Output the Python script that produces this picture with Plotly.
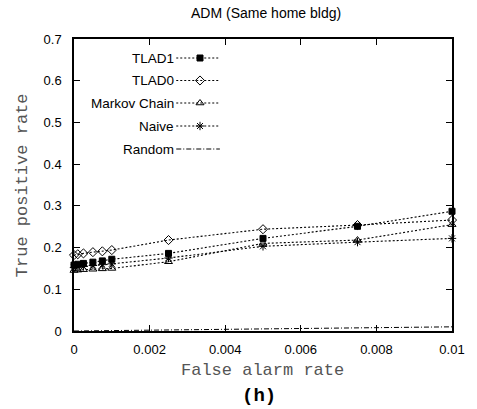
import plotly.graph_objects as go

# False alarm rate sample points
far = [0, 0.0001, 0.00025, 0.0005, 0.00075, 0.001, 0.0025, 0.005, 0.0075, 0.01]

# True positive rate for each detector
tlad1 = [0.158, 0.160, 0.162, 0.165, 0.168, 0.172, 0.186, 0.222, 0.251, 0.287]
tlad0 = [0.182, 0.184, 0.186, 0.189, 0.191, 0.194, 0.218, 0.244, 0.254, 0.266]
markov = [0.145, 0.146, 0.147, 0.148, 0.149, 0.150, 0.166, 0.210, 0.218, 0.255]
naive = [0.152, 0.153, 0.155, 0.157, 0.159, 0.161, 0.175, 0.203, 0.213, 0.222]
random_far = [0, 0.01]
random_tpr = [0, 0.01]

series_names = ["TLAD1", "TLAD0", "Markov Chain", "Naive", "Random"]

x_ticks = [0, 0.002, 0.004, 0.006, 0.008, 0.01]
x_tick_text = ["0", "0.002", "0.004", "0.006", "0.008", "0.01"]
y_ticks = [0, 0.1, 0.2, 0.3, 0.4, 0.5, 0.6, 0.7]
y_tick_text = ["0", "0.1", "0.2", "0.3", "0.4", "0.5", "0.6", "0.7"]

W, H = 477, 409
L, R, T, B = 73.5, 463.5, 39, 331  # plot area edges in pixels
PW, PH = R - L, B - T

DOT = "2px,2px"
DASHDOT = "5px,2px,1px,2px"
SANS = "Liberation Sans, Arial, sans-serif"
MONO = "Liberation Mono, Courier New, monospace"

styles = [
    dict(symbol="square", size=6, color="black", line=dict(color="black", width=1)),
    dict(symbol="diamond-open", size=7, color="black", line=dict(color="black", width=1)),
    dict(symbol="triangle-up-open", size=7, color="black", line=dict(color="black", width=1)),
    dict(symbol="asterisk-open", size=7, color="black", line=dict(color="black", width=1)),
]

fig = go.Figure()

for name, ys, mk in zip(series_names[:4], [tlad1, tlad0, markov, naive], styles):
    fig.add_trace(go.Scatter(
        x=far, y=ys, name=name, mode="lines+markers",
        line=dict(color="black", width=1.1, dash=DOT),
        marker=mk, showlegend=False, cliponaxis=False,
    ))

fig.add_trace(go.Scatter(
    x=random_far, y=random_tpr, name=series_names[4], mode="lines",
    line=dict(color="black", width=1, dash=DASHDOT), showlegend=False,
))

# Legend drawn inside the plot: label on the left, sample on the right
leg_rows_px = [58, 80.5, 103, 126, 149]
leg_text_right = 179
leg_line = (179, 224)
for i, name in enumerate(series_names):
    yy = B - leg_rows_px[i]
    x0, x1 = leg_line[0] - L, leg_line[1] - L
    fig.add_trace(go.Scatter(
        x=[x0, x1], y=[yy, yy], xaxis="x2", yaxis="y2", mode="lines",
        line=dict(color="black", width=1, dash=DOT if i < 4 else DASHDOT),
        showlegend=False, hoverinfo="skip",
    ))
    if i < 4:
        fig.add_trace(go.Scatter(
            x=[(x0 + x1) / 2 + 2], y=[yy], xaxis="x2", yaxis="y2", mode="markers",
            marker=styles[i], showlegend=False, hoverinfo="skip",
        ))
    fig.add_annotation(
        x=leg_text_right - L, y=yy, xref="x2", yref="y2", text=name,
        showarrow=False, xanchor="right", yanchor="middle",
        font=dict(family=SANS, size=13.5, color="black"),
    )


def px(xp):
    return (xp - L) / PW


def py(yp):
    return (B - yp) / PH


fig.add_annotation(x=px(272), y=py(13), xref="paper", yref="paper",
                   text="ADM (Same home bldg)", showarrow=False,
                   xanchor="center", yanchor="middle",
                   font=dict(family=SANS, size=14, color="black"))
fig.add_annotation(x=px(268), y=py(370), xref="paper", yref="paper",
                   text="False alarm rate", showarrow=False,
                   xanchor="center", yanchor="middle",
                   font=dict(family=MONO, size=17, color="#555"))
fig.add_annotation(x=px(20), y=py(185), xref="paper", yref="paper",
                   text="True positive rate", showarrow=False, textangle=-90,
                   xanchor="center", yanchor="middle",
                   font=dict(family=MONO, size=17, color="#555"))
fig.add_annotation(x=px(264), y=py(396), xref="paper", yref="paper",
                   text="<b>(h)</b>", showarrow=False,
                   xanchor="center", yanchor="middle",
                   font=dict(family=MONO, size=19, color="black"))

axis_common = dict(
    showline=True, linecolor="black", linewidth=1.5, mirror="ticks",
    ticks="inside", ticklen=6, tickwidth=1, tickcolor="black",
    showgrid=False, zeroline=False,
    tickfont=dict(family=SANS, size=13, color="black"),
)

fig.update_layout(
    width=W, height=H,
    margin=dict(l=L, r=W - R, t=T, b=H - B, pad=0),
    paper_bgcolor="white", plot_bgcolor="white",
    xaxis=dict(range=[0, 0.01], tickvals=x_ticks, ticktext=x_tick_text,
               ticklabelstandoff=6, **axis_common),
    yaxis=dict(range=[0, 0.7], tickvals=y_ticks, ticktext=y_tick_text,
               ticklabelstandoff=8, **axis_common),
    xaxis2=dict(range=[0, PW], overlaying="x", visible=False),
    yaxis2=dict(range=[0, PH], overlaying="y", visible=False),
    showlegend=False,
)

fig.write_html("out.html")
